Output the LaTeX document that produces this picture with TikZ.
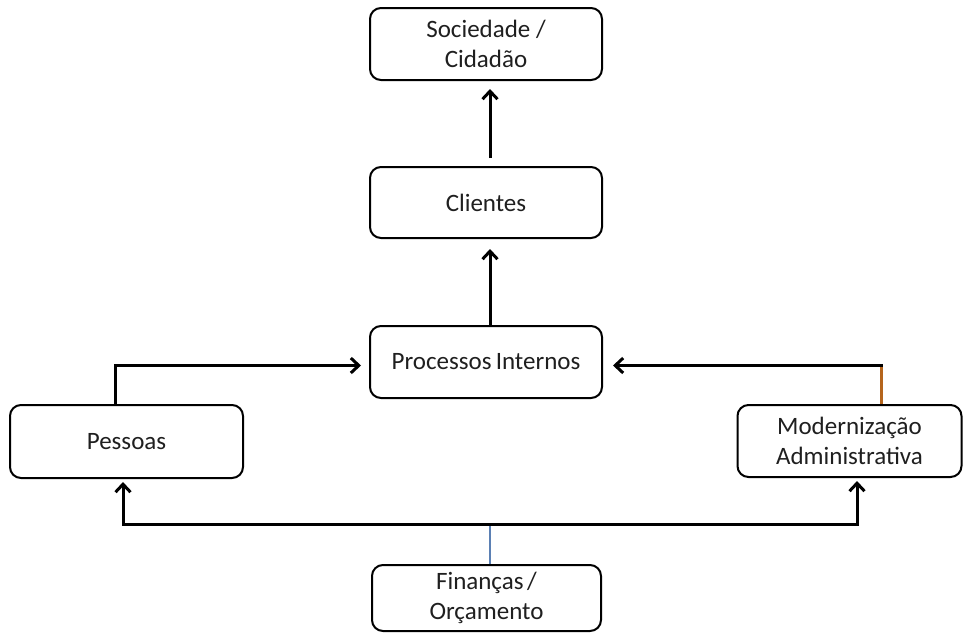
\documentclass[tikz,border=0pt]{standalone}
\usepackage{fontspec}
\setmainfont{Carlito}
\usetikzlibrary{arrows.meta}
\definecolor{linkbrown}{HTML}{B5651D}
\definecolor{linkblue}{HTML}{5B80B4}
\tikzset{
  card/.style={draw=black, line width=2pt, rounded corners=11pt, fill=white,
    inner sep=0pt, align=center, text=black!88, font=\fontsize{25}{30}\selectfont},
  flow/.style={line width=3pt, -{Straight Barb[length=8pt,width=15pt]}},
  busline/.style={line width=3pt},
  brownlink/.style={line width=2.5pt, draw=linkbrown},
  bluelink/.style={line width=1.2pt, draw=linkblue},
}
\begin{document}
\begin{tikzpicture}[x=1pt,y=-1pt]
  \useasboundingbox (0,0) rectangle (963,635);

  % perspective boxes
  \node[card, minimum width=232pt, minimum height=72pt] (soc) at (486,44)
    {Sociedade /\\Cidadão};
  \node[card, minimum width=232pt, minimum height=71pt] (cli) at (486,202.5)
    {Clientes};
  \node[card, minimum width=232pt, minimum height=72pt] (proc) at (486,362)
    {Processos\hspace{-1.5pt} Internos};
  \node[card, minimum width=233pt, minimum height=73pt] (pes) at (126.5,441.5)
    {Pessoas};
  \node[card, minimum width=224pt, minimum height=72pt] (mod) at (849.5,441)
    {Modernização\\Administrativa};
  \node[card, minimum width=229pt, minimum height=66pt] (fin) at (486.5,598)
    {Finanças\hspace{-2pt} /\\Orçamento};

  % vertical chain
  \draw[flow] ([xshift=4pt,yshift=8pt]cli.north) -- ([xshift=4pt,yshift=-8pt]soc.south);
  \draw[flow] ([xshift=4pt]proc.north) -- ([xshift=4pt,yshift=-10pt]cli.south);

  % Pessoas -> Processos Internos
  \coordinate (pin) at ([xshift=-8pt,yshift=-3.5pt]proc.west);
  \coordinate (pout) at ([xshift=-11.5pt]pes.north);
  \draw[flow] (pout) |- (pin);

  % Modernizacao -> Processos Internos
  \coordinate (min) at ([xshift=10pt,yshift=-3.5pt]proc.east);
  \coordinate (mout) at ([xshift=32pt]mod.north);
  \coordinate (mturn) at (mout |- min);
  \draw[brownlink] (mout) -- (mturn);
  \draw[flow] ([xshift=1.25pt]mturn) -- (min);

  % Financas -> Pessoas and Modernizacao
  \coordinate (busl) at (123,524);
  \coordinate (busr) at (857,524);
  \coordinate (busm) at ([xshift=3.5pt]fin.north |- busl);
  \draw[bluelink] ([xshift=3.5pt]fin.north) -- (busm);
  \draw[busline, {Straight Barb[length=8pt,width=15pt]}-{Straight Barb[length=8pt,width=15pt]}]
    (busl |- pes.south) ++(0,3) coordinate (pbot)
    (pbot) -- (busl) -- (busr) -- ([yshift=-3pt]busr |- mod.south);
\end{tikzpicture}
\end{document}
